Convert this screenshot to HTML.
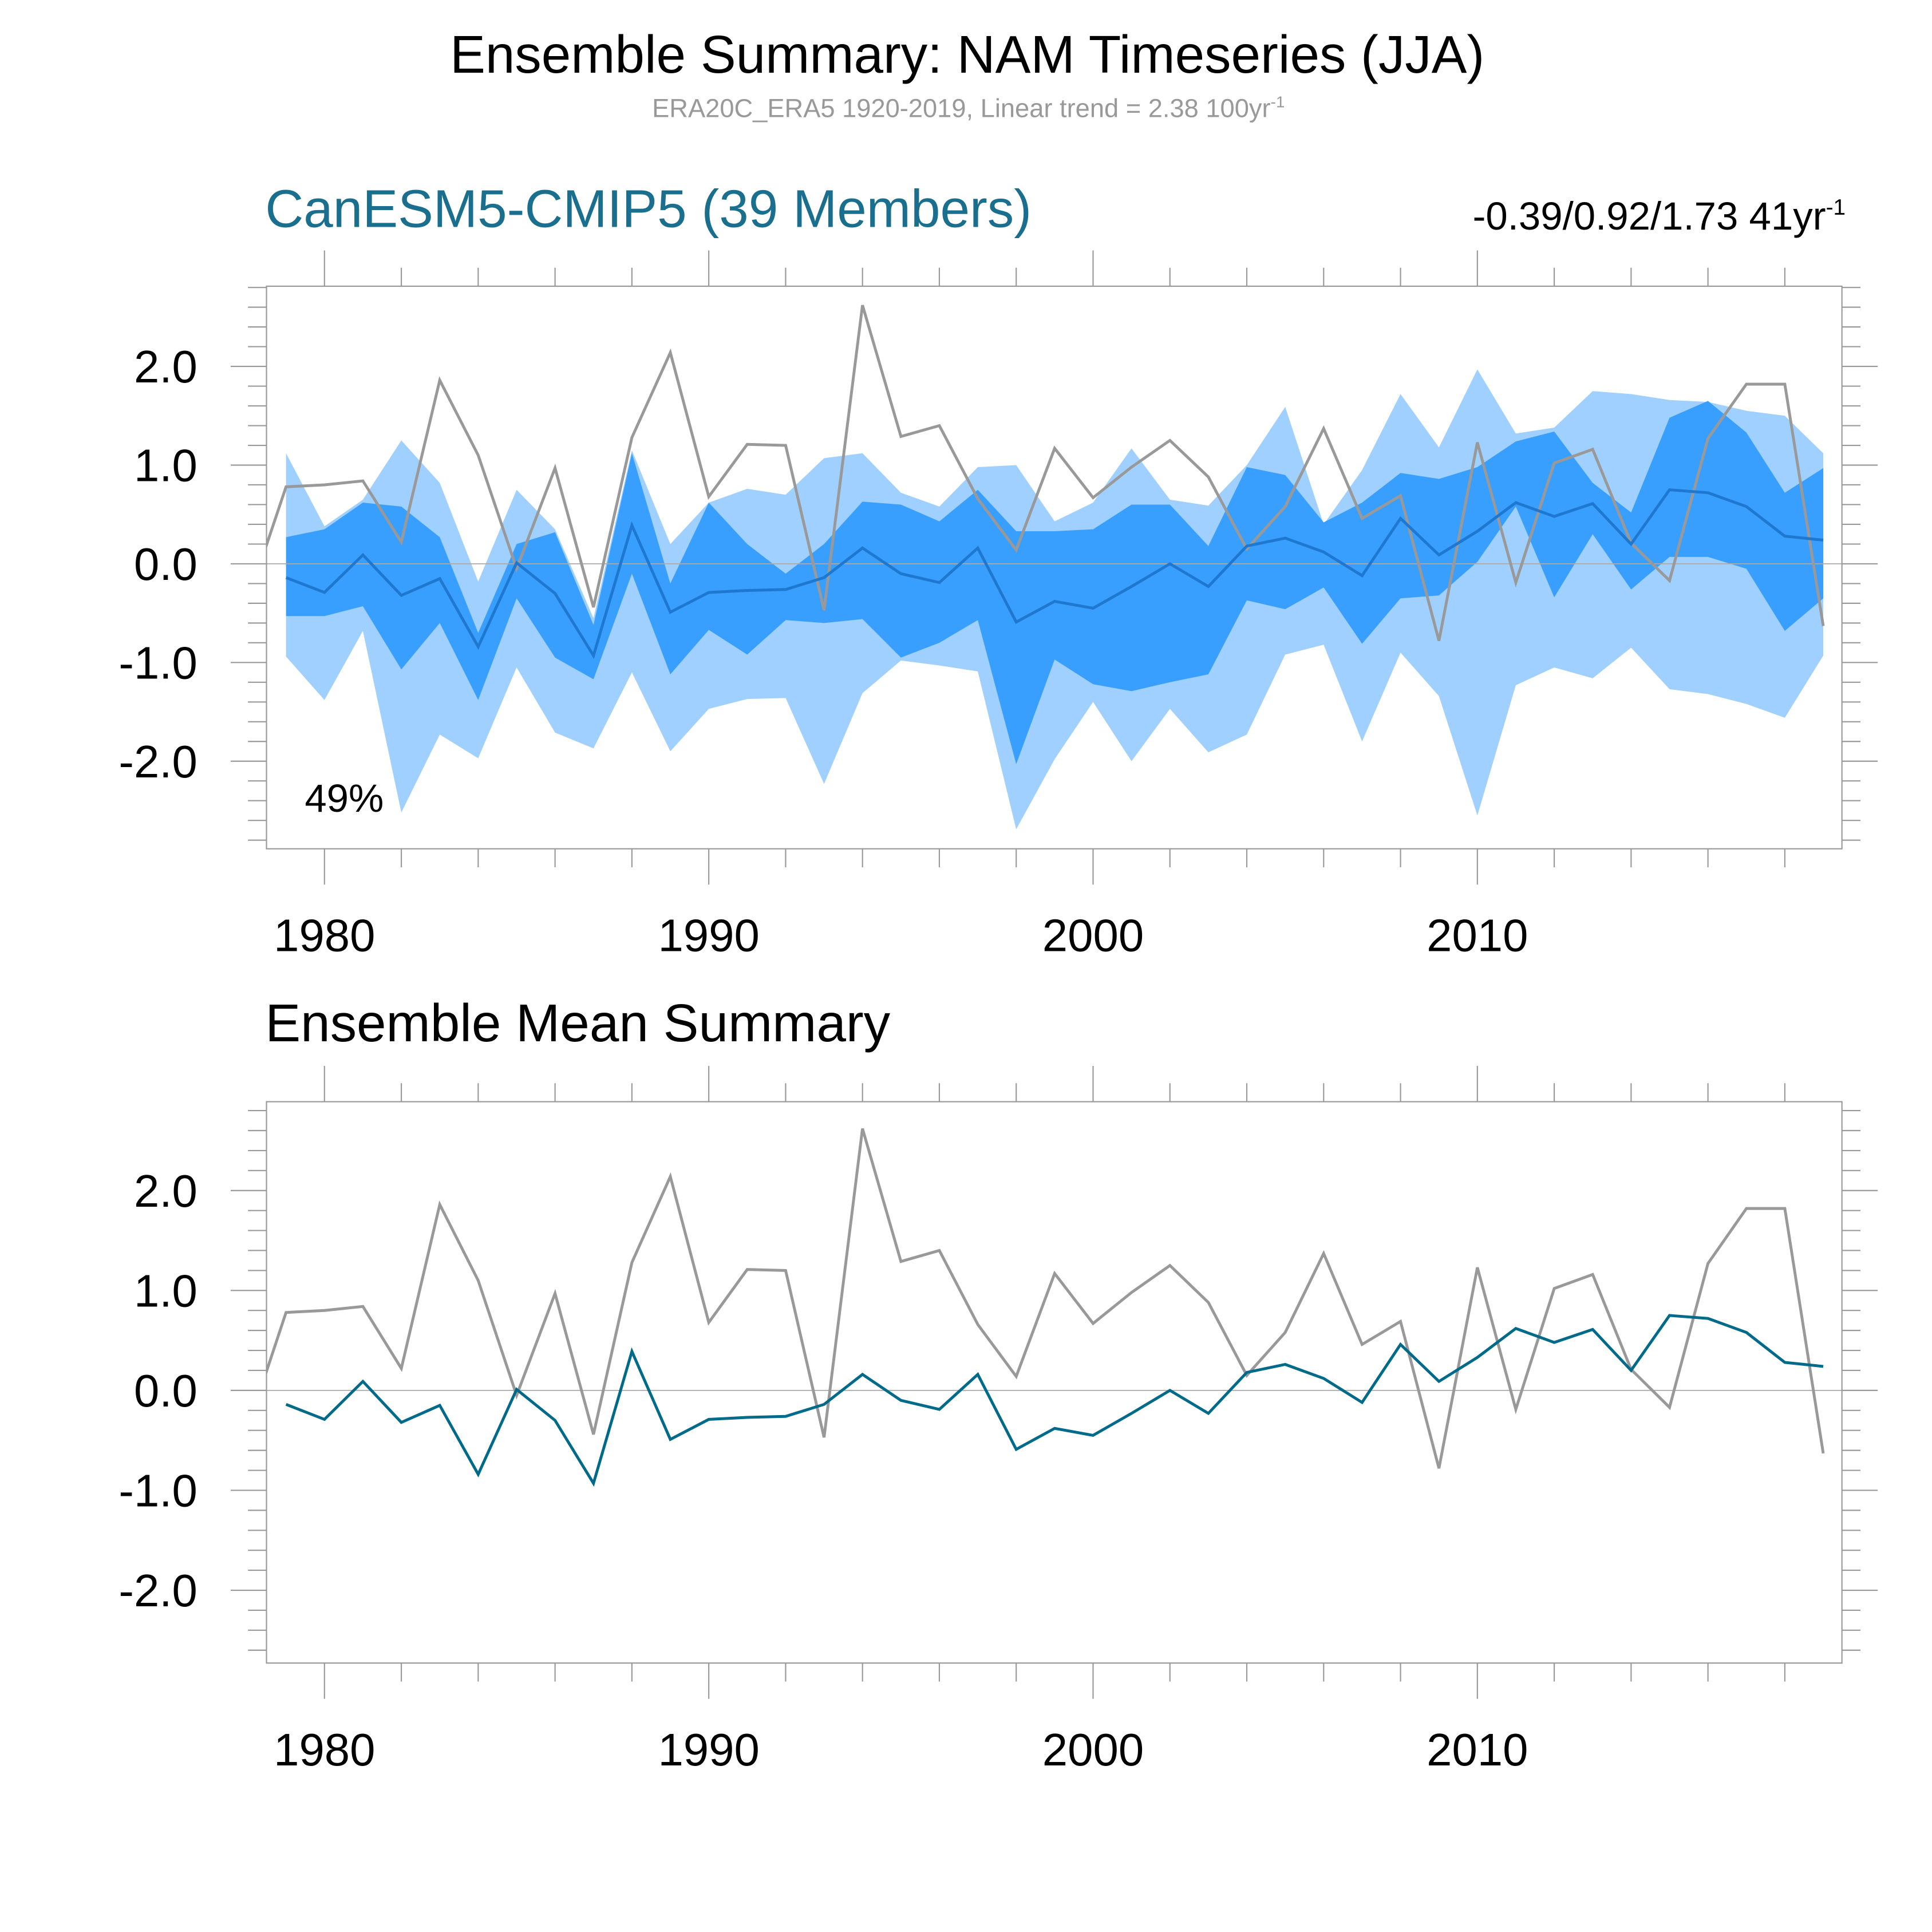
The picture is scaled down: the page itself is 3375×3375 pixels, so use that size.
<!DOCTYPE html>
<html><head><meta charset="utf-8"><style>
html,body{margin:0;padding:0;background:#fff}
svg{display:block;font-family:"Liberation Sans",Arial,sans-serif}
</style></head><body>
<svg id="chart" xmlns="http://www.w3.org/2000/svg" width="3375" height="3375" viewBox="0 0 1566 1566">
<rect width="1566" height="1566" fill="#fff"/>
<text x="784" y="59" font-size="43" text-anchor="middle" fill="#000">Ensemble Summary: NAM Timeseries (JJA)</text>
<text x="785" y="95" font-size="21" text-anchor="middle" fill="#999">ERA20C_ERA5 1920-2019, Linear trend = 2.38 100yr<tspan dy="-8" font-size="13">-1</tspan></text>
<text x="215" y="184" font-size="43" fill="#1a6e8e">CanESM5-CMIP5 (39 Members)</text>
<text x="1496" y="186" font-size="32" text-anchor="end" fill="#000">-0.39/0.92/1.73 41yr<tspan dy="-12" font-size="18">-1</tspan></text>
<text x="215" y="844" font-size="43" fill="#000">Ensemble Mean Summary</text>
<g id="p1"></g>
<g id="p2"></g>
</svg>
<script>
const years = [1978,1979,1980,1981,1982,1983,1984,1985,1986,1987,1988,1989,1990,1991,1992,1993,1994,1995,1996,1997,1998,1999,2000,2001,2002,2003,2004,2005,2006,2007,2008,2009,2010,2011,2012,2013,2014,2015,2016,2017,2018,2019];
const obs = [-0.38,0.78,0.80,0.84,0.22,1.86,1.10,-0.05,0.97,-0.44,1.28,2.14,0.68,1.21,1.20,-0.47,2.62,1.29,1.40,0.66,0.14,1.17,0.67,0.98,1.25,0.88,0.15,0.58,1.37,0.46,0.69,-0.78,1.23,-0.19,1.02,1.16,0.21,-0.17,1.27,1.82,1.82,-0.63];
const ensYears = years.slice(1);
const ensMean = [-0.14,-0.29,0.09,-0.32,-0.15,-0.84,0.01,-0.30,-0.93,0.39,-0.49,-0.29,-0.27,-0.26,-0.14,0.16,-0.10,-0.19,0.16,-0.59,-0.38,-0.45,-0.23,0.00,-0.23,0.18,0.26,0.12,-0.12,0.46,0.09,0.33,0.62,0.48,0.61,0.20,0.75,0.72,0.58,0.28,0.24];
const ensMax = [1.12,0.38,0.65,1.25,0.82,-0.18,0.75,0.35,-0.55,1.15,0.2,0.62,0.76,0.70,1.07,1.12,0.72,0.58,0.98,1.0,0.43,0.62,1.17,0.65,0.59,1.0,1.59,0.4,0.95,1.72,1.18,1.97,1.32,1.38,1.75,1.72,1.66,1.64,1.55,1.50,1.12];
const ensMin = [-0.94,-1.38,-0.68,-2.52,-1.73,-1.97,-1.05,-1.71,-1.87,-1.10,-1.90,-1.47,-1.37,-1.36,-2.23,-1.31,-0.98,-1.03,-1.09,-2.69,-1.98,-1.40,-2.00,-1.47,-1.91,-1.73,-0.92,-0.82,-1.80,-0.90,-1.34,-2.55,-1.23,-1.05,-1.16,-0.85,-1.27,-1.32,-1.42,-1.56,-0.93];
const ensHi = [0.27,0.35,0.62,0.58,0.27,-0.70,0.20,0.32,-0.62,1.12,-0.20,0.62,0.20,-0.10,0.20,0.63,0.60,0.43,0.75,0.33,0.33,0.35,0.60,0.60,0.18,0.98,0.90,0.42,0.62,0.92,0.86,0.98,1.24,1.34,0.82,0.52,1.48,1.65,1.33,0.72,0.97];
const ensLo = [-0.53,-0.53,-0.43,-1.07,-0.60,-1.38,-0.35,-0.95,-1.17,-0.10,-1.12,-0.67,-0.92,-0.57,-0.60,-0.56,-0.95,-0.80,-0.57,-2.03,-0.97,-1.22,-1.29,-1.20,-1.12,-0.37,-0.46,-0.24,-0.81,-0.35,-0.32,0.02,0.58,-0.34,0.30,-0.26,0.07,0.07,-0.05,-0.68,-0.35];
const yTicks = [-2,-1,0,1,2];
const yTickLabels = ["-2.0","-1.0","0.0","1.0","2.0"];
const xTicks = [1980,1990,2000,2010];

const NS="http://www.w3.org/2000/svg";
function mk(parent,tag,attrs){const e=document.createElementNS(NS,tag);for(const k in attrs)e.setAttribute(k,attrs[k]);parent.appendChild(e);return e;}

function panel(g,top,bot,y0px,ppu,showBands,meanColor,idx){
  const L=216,R=1493;
  const xs=y=>263+(y-1980)*31.15;
  const ys=v=>y0px-v*ppu;
  const cp=mk(g,'clipPath',{id:'clip'+idx});
  mk(cp,'rect',{x:L,y:top,width:R-L,height:bot-top});
  const inner=mk(g,'g',{'clip-path':'url(#clip'+idx+')'});
  if(showBands){
    const band=(hi,lo,col,name)=>{
      let d=ensYears.map((y,i)=>(i?'L':'M')+xs(y)+','+ys(hi[i])).join(' ');
      for(let i=ensYears.length-1;i>=0;i--)d+=' L'+xs(ensYears[i])+','+ys(lo[i]);
      const p=mk(inner,'path',{d:d+'Z',fill:col});
      
      
    };
    band(ensMax,ensMin,'#a0d0ff','ensemble-range-band');
    band(ensHi,ensLo,'#389fff','ensemble-inner-band');
  }
  const zl=mk(inner,'line',{x1:L,x2:R,y1:ys(0),y2:ys(0),stroke:'#aaa','stroke-width':0.8});
  
  
  const ol=mk(inner,'polyline',{points:years.map((y,i)=>xs(y)+','+ys(obs[i])).join(' '),fill:'none',stroke:'#999','stroke-width':2.3});
  
  
  const ml=mk(inner,'polyline',{points:ensYears.map((y,i)=>xs(y)+','+ys(ensMean[i])).join(' '),fill:'none',stroke:meanColor,'stroke-width':2.3});
  
  
  const fr=mk(g,'rect',{x:L,y:top,width:R-L,height:bot-top,fill:'none',stroke:'#999','stroke-width':1});
  
  
  for(let y=1980;y<=2019;y+=2){
    const major=(y%10===0), len=major?29:15, x=xs(y);
    mk(g,'line',{x1:x,x2:x,y1:top,y2:top-len,stroke:'#999','stroke-width':1});
    mk(g,'line',{x1:x,x2:x,y1:bot,y2:bot+len,stroke:'#999','stroke-width':1});
  }
  xTicks.forEach(y=>{
    const t=mk(g,'text',{x:xs(y),y:bot+83,'font-size':37,'text-anchor':'middle',fill:'#000'});
    t.textContent=y;
    
    
  });
  for(let k=-14;k<=14;k++){
    const v=k*0.2, yy=ys(v);
    if(yy<top-0.5||yy>bot+0.5)continue;
    const major=(k%5===0), len=major?29:15;
    mk(g,'line',{x1:L,x2:L-len,y1:yy,y2:yy,stroke:'#999','stroke-width':1});
    mk(g,'line',{x1:R,x2:R+len,y1:yy,y2:yy,stroke:'#999','stroke-width':1});
  }
  yTicks.forEach((v,i)=>{
    const t=mk(g,'text',{x:160,y:ys(v)+13,'font-size':37,'text-anchor':'end',fill:'#000'});
    t.textContent=yTickLabels[i];
    
    
  });
}
panel(document.getElementById('p1'),232,688,457,80,true,'#1f78d0',1);
panel(document.getElementById('p2'),893,1348,1127,81,false,'#006a8a',2);
const pct=mk(document.getElementById('p1'),'text',{x:247,y:658,'font-size':32,fill:'#000'});
pct.textContent='49%';


</script>
</body></html>
